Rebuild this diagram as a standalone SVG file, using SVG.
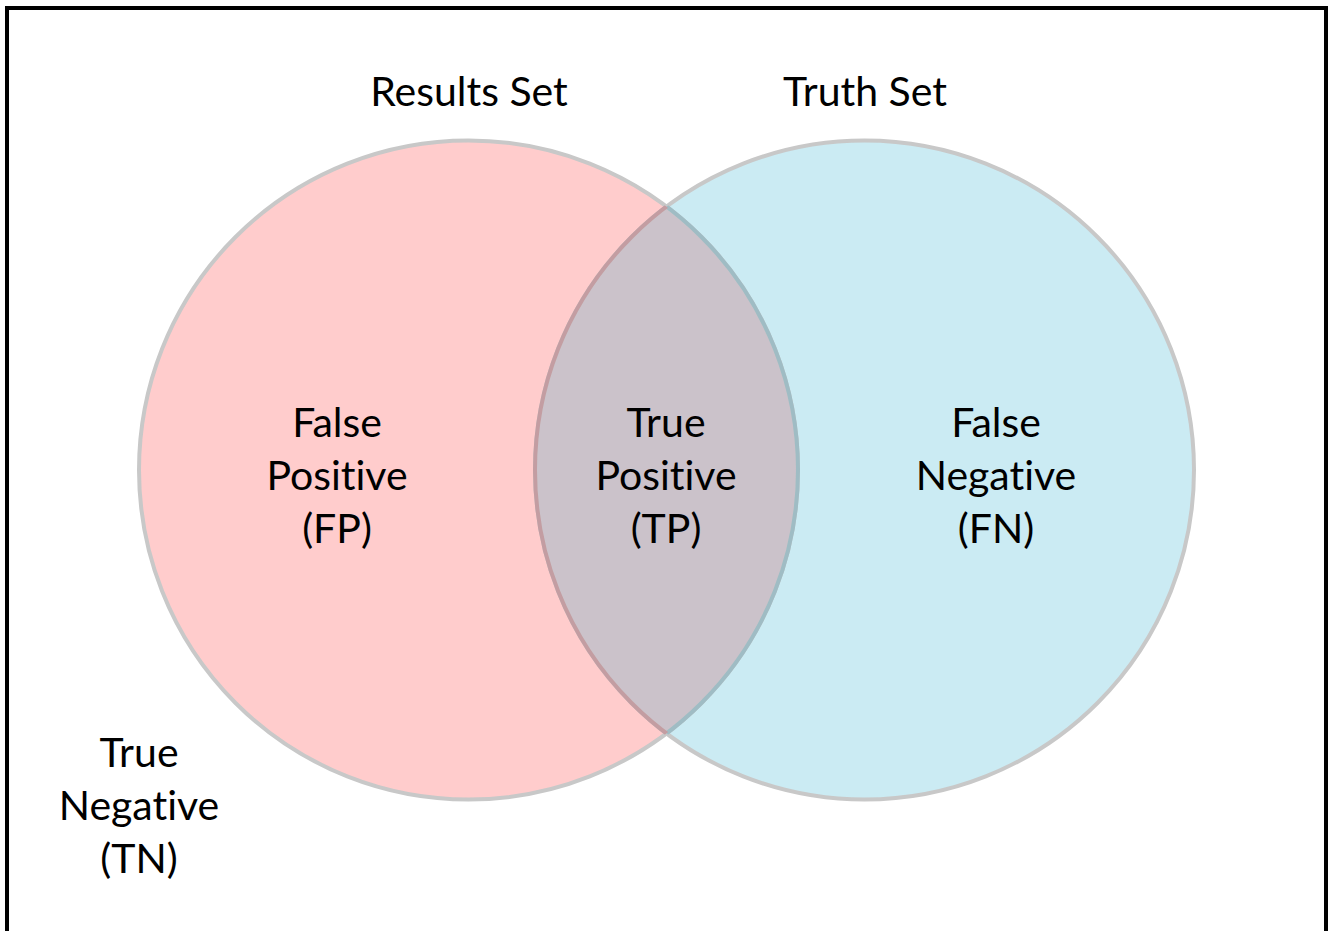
<svg xmlns="http://www.w3.org/2000/svg" width="1336" height="931" viewBox="0 0 1336 931">
  <defs>
    <style>
      .lbl { font-family: Lato, "Open Sans", "Liberation Sans", sans-serif; font-size: 41px; fill: #000; text-anchor: middle; font-variant-ligatures: none; font-feature-settings: "liga" 0, "clig" 0; }
      .edge { fill: none; stroke-width: 4; }
    </style>
    <clipPath id="inLeft"><circle cx="468.5" cy="470" r="329.5"/></clipPath>
    <clipPath id="inRight"><circle cx="864.5" cy="470" r="329.5"/></clipPath>
  </defs>
  <rect x="0" y="0" width="1336" height="931" fill="#ffffff"/>
  <rect id="frame" x="7" y="8" width="1319" height="940" fill="none" stroke="#000" stroke-width="4"/>

  <g id="results-set">
    <circle cx="468.5" cy="470" r="329.5" fill="#ffcccc"/>
    <text class="lbl" x="469" y="106">Results Set</text>
  </g>
  <g id="truth-set">
    <circle cx="864.5" cy="470" r="329.5" fill="#cbebf3"/>
    <text class="lbl" x="865" y="106">Truth Set</text>
  </g>
  <g id="overlap">
    <circle cx="864.5" cy="470" r="329.5" fill="#cbc2ca" clip-path="url(#inLeft)"/>
  </g>
  <g id="outlines">
    <circle class="edge" cx="468.5" cy="470" r="329.5" stroke="#c8c8c8"/>
    <circle class="edge" cx="864.5" cy="470" r="329.5" stroke="#c8c8c8"/>
    <circle class="edge" cx="468.5" cy="470" r="329.5" stroke="#9fbcc4" clip-path="url(#inRight)"/>
    <circle class="edge" cx="864.5" cy="470" r="329.5" stroke="#c39da2" clip-path="url(#inLeft)"/>
  </g>

  <g id="fp">
    <text class="lbl" x="337" y="437">False</text>
    <text class="lbl" x="337" y="490">Positive</text>
    <text class="lbl" x="337" y="543">(FP)</text>
  </g>
  <g id="tp">
    <text class="lbl" x="666" y="437">True</text>
    <text class="lbl" x="666" y="490">Positive</text>
    <text class="lbl" x="666" y="543">(TP)</text>
  </g>
  <g id="fn">
    <text class="lbl" x="996" y="437">False</text>
    <text class="lbl" x="996" y="490">Negative</text>
    <text class="lbl" x="996" y="543">(FN)</text>
  </g>
  <g id="tn">
    <text class="lbl" x="139" y="767">True</text>
    <text class="lbl" x="139" y="820">Negative</text>
    <text class="lbl" x="139" y="873">(TN)</text>
  </g>
</svg>
